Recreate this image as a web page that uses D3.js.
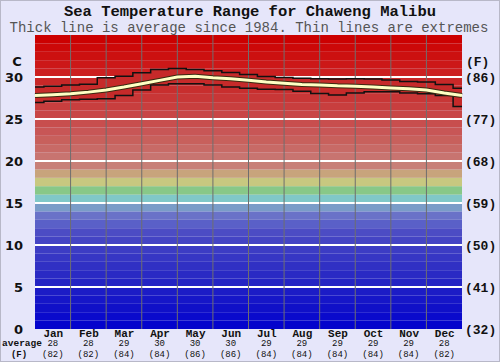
<!DOCTYPE html>
<html>
<head>
<meta charset="utf-8">
<script src="https://cdn.jsdelivr.net/npm/d3@7"></script>
<style>
  body { margin: 0; background: #e6e6fa; }
</style>
</head>
<body>
<div id="chart"></div>
<script>
// chart values
var months = ["Jan","Feb","Mar","Apr","May","Jun","Jul","Aug","Sep","Oct","Nov","Dec"];
var avgC = [28,28,29,30,30,30,29,29,29,29,29,28];
var avgF = [82,82,84,84,86,86,84,84,84,84,84,82];
var tickC = [0,5,10,15,20,25,30];
var tickF = [32,41,50,59,68,77,86];

// positions in months (0 = 1 Jan, 12 = 31 Dec), half month steps
var linePos = [0,0.5,1,1.5,2,2.5,3,3.5,4,4.5,5,5.5,6,6.5,7,7.5,8,8.5,9,9.5,10,10.5,11,11.5,12];
var avgLine = [27.8,27.9,28.0,28.2,28.45,28.8,29.2,29.6,30.0,30.1,29.9,29.8,29.6,29.4,29.25,29.1,29.05,28.95,28.9,28.8,28.7,28.6,28.45,28.1,27.8];
var maxLine = [28.8,28.9,29.05,29.15,29.9,30.1,30.5,30.9,31.0,30.9,30.75,30.55,30.3,30.05,29.95,29.85,29.8,29.75,29.8,29.75,29.65,29.45,29.4,29.1,28.65];
var minLine = [26.95,27.1,27.3,27.35,27.4,27.8,28.45,29.05,29.2,29.2,29.05,28.8,28.65,28.55,28.5,28.3,28.05,27.85,28.1,28.25,28.25,28.1,28.0,27.8,26.5];

// one colour per degree band, 0..34 C
var bandColors = ["#0404cc","#0a0acc","#1010c8","#1616c8","#1c1cc6","#2424c4","#2a2ac4","#3030c4","#3636c4","#3c3cc4",
  "#4444c4","#4c4cc4","#5a60c8","#6a72c8","#7a9cc8","#80c8c8","#88c888","#c8c880","#c8a47c","#c88078",
  "#c87470","#c86a66","#c8605c","#c85656","#c84e4e","#c84646","#c83e3e","#c83636","#c82e2e","#c82828",
  "#cc2020","#cc1818","#cc1010","#cc0808","#cc0000"];

var svgWidth = 500;
var svgHeight = 362;
var plotLeft = 35, plotRight = 462, plotTop = 35, plotBottom = 329;

var svg = d3.select("#chart")
  .append("svg")
  .attr("width", svgWidth)
  .attr("height", svgHeight);

svg.append("rect")
  .attr("x", 0.5).attr("y", 0.5)
  .attr("width", svgWidth - 1).attr("height", svgHeight - 1)
  .attr("fill", "#e6e6fa")
  .attr("stroke", "#b8b8c8");

var x = d3.scaleLinear().domain([0, 12]).range([plotLeft, plotRight]);
var y = d3.scaleLinear().domain([0, 35]).range([plotBottom, plotTop]);

// colour bands
svg.append("g").selectAll("rect")
  .data(bandColors)
  .enter()
  .append("rect")
  .attr("x", plotLeft)
  .attr("y", (d, i) => y(i + 1))
  .attr("width", plotRight - plotLeft)
  .attr("height", (d, i) => y(i) - y(i + 1))
  .attr("fill", d => d);

// white gridlines
svg.append("g").selectAll("line")
  .data(tickC.filter(d => d > 0))
  .enter()
  .append("line")
  .attr("x1", plotLeft).attr("x2", plotRight)
  .attr("y1", d => y(d)).attr("y2", d => y(d))
  .attr("stroke", "#ffffff")
  .attr("stroke-width", 2);

// range between extremes
var rangeData = linePos.map((p, i) => ({p: p, lo: minLine[i], hi: maxLine[i]}));
svg.append("path")
  .datum(rangeData)
  .attr("fill", "#c62a2a")
  .attr("d", d3.area().curve(d3.curveStep)
    .x(d => x(d.p)).y0(d => y(d.lo)).y1(d => y(d.hi)));

// month separators
svg.append("g").selectAll("line")
  .data(d3.range(1, 12))
  .enter()
  .append("line")
  .attr("x1", d => x(d)).attr("x2", d => x(d))
  .attr("y1", plotTop).attr("y2", plotBottom)
  .attr("stroke", "#6e6e6e")
  .attr("stroke-width", 1);

// extremes
[maxLine, minLine].forEach(function(series) {
  svg.append("path")
    .datum(series)
    .attr("fill", "none")
    .attr("stroke", "#111")
    .attr("stroke-width", 1.5)
    .attr("d", d3.line().curve(d3.curveStep)
      .x((d, i) => x(linePos[i])).y(d => y(d)));
});

// average
var avgPath = d3.line().x((d, i) => x(linePos[i])).y(d => y(d));
svg.append("path")
  .datum(avgLine)
  .attr("fill", "none")
  .attr("stroke", "#3a2a10")
  .attr("stroke-width", 5)
  .attr("d", avgPath);
svg.append("path")
  .datum(avgLine)
  .attr("fill", "none")
  .attr("stroke", "#ffffc4")
  .attr("stroke-width", 3)
  .attr("d", avgPath);

// axes
var leftAxis = svg.append("g")
  .attr("transform", `translate(${plotLeft}, 0)`)
  .call(d3.axisLeft(y).tickValues(tickC).tickSize(0).tickPadding(12));
leftAxis.select(".domain").remove();
leftAxis.selectAll("text")
  .attr("font-family", "DejaVu Sans, sans-serif")
  .attr("font-weight", "bold")
  .attr("font-size", "13px")
  .attr("fill", "#111");

var rightAxis = svg.append("g")
  .attr("transform", `translate(${plotRight}, 0)`)
  .call(d3.axisRight(y).tickValues(tickC).tickSize(0).tickPadding(3)
    .tickFormat((d, i) => "(" + tickF[i] + ")"));
rightAxis.select(".domain").remove();
rightAxis.selectAll("text")
  .attr("font-family", "Liberation Mono, monospace")
  .attr("font-weight", "bold")
  .attr("font-size", "13px")
  .attr("fill", "#111");

svg.append("text")
  .attr("x", 17).attr("y", 66)
  .attr("text-anchor", "middle")
  .attr("font-family", "DejaVu Sans, sans-serif")
  .attr("font-weight", "bold")
  .attr("font-size", "13px")
  .attr("fill", "#111")
  .text("C");

svg.append("text")
  .attr("x", 466).attr("y", 66)
  .attr("font-family", "Liberation Mono, monospace")
  .attr("font-weight", "bold")
  .attr("font-size", "13px")
  .attr("fill", "#111")
  .text("(F)");

var bottomAxis = svg.append("g")
  .attr("transform", `translate(0, ${plotBottom})`)
  .call(d3.axisBottom(x).tickValues(d3.range(12).map(d => d + 0.5)).tickSize(0).tickPadding(0)
    .tickFormat((d, i) => months[i]));
bottomAxis.select(".domain").remove();
bottomAxis.selectAll("text")
  .attr("font-family", "Liberation Mono, monospace")
  .attr("font-weight", "bold")
  .attr("font-size", "11px")
  .attr("fill", "#111");

svg.append("g").selectAll("text")
  .data(avgC)
  .enter()
  .append("text")
  .attr("x", (d, i) => x(i + 0.5))
  .attr("y", 346)
  .attr("text-anchor", "middle")
  .attr("font-family", "Liberation Mono, monospace")
  .attr("font-size", "9px")
  .attr("fill", "#111")
  .text(d => d);

svg.append("g").selectAll("text")
  .data(avgF)
  .enter()
  .append("text")
  .attr("x", (d, i) => x(i + 0.5))
  .attr("y", 356.5)
  .attr("text-anchor", "middle")
  .attr("font-family", "Liberation Mono, monospace")
  .attr("font-size", "9px")
  .attr("fill", "#111")
  .text(d => "(" + d + ")");

svg.append("text")
  .attr("x", 22).attr("y", 346)
  .attr("text-anchor", "middle")
  .attr("font-family", "Liberation Mono, monospace")
  .attr("font-weight", "bold")
  .attr("font-size", "9.5px")
  .attr("fill", "#111")
  .text("average");

svg.append("text")
  .attr("x", 19).attr("y", 356.5)
  .attr("text-anchor", "middle")
  .attr("font-family", "Liberation Mono, monospace")
  .attr("font-weight", "bold")
  .attr("font-size", "9px")
  .attr("fill", "#111")
  .text("(F)");

// titles
svg.append("text")
  .attr("x", 250).attr("y", 15.5)
  .attr("text-anchor", "middle")
  .attr("font-family", "Liberation Mono, monospace")
  .attr("font-weight", "bold")
  .attr("font-size", "15.5px")
  .attr("fill", "#111")
  .text("Sea Temperature Range for Chaweng Malibu");

svg.append("text")
  .attr("x", 249).attr("y", 32)
  .attr("text-anchor", "middle")
  .attr("font-family", "Liberation Mono, monospace")
  .attr("font-size", "14px")
  .attr("fill", "#555")
  .text("Thick line is average since 1984. Thin lines are extremes");
</script>
</body>
</html>
